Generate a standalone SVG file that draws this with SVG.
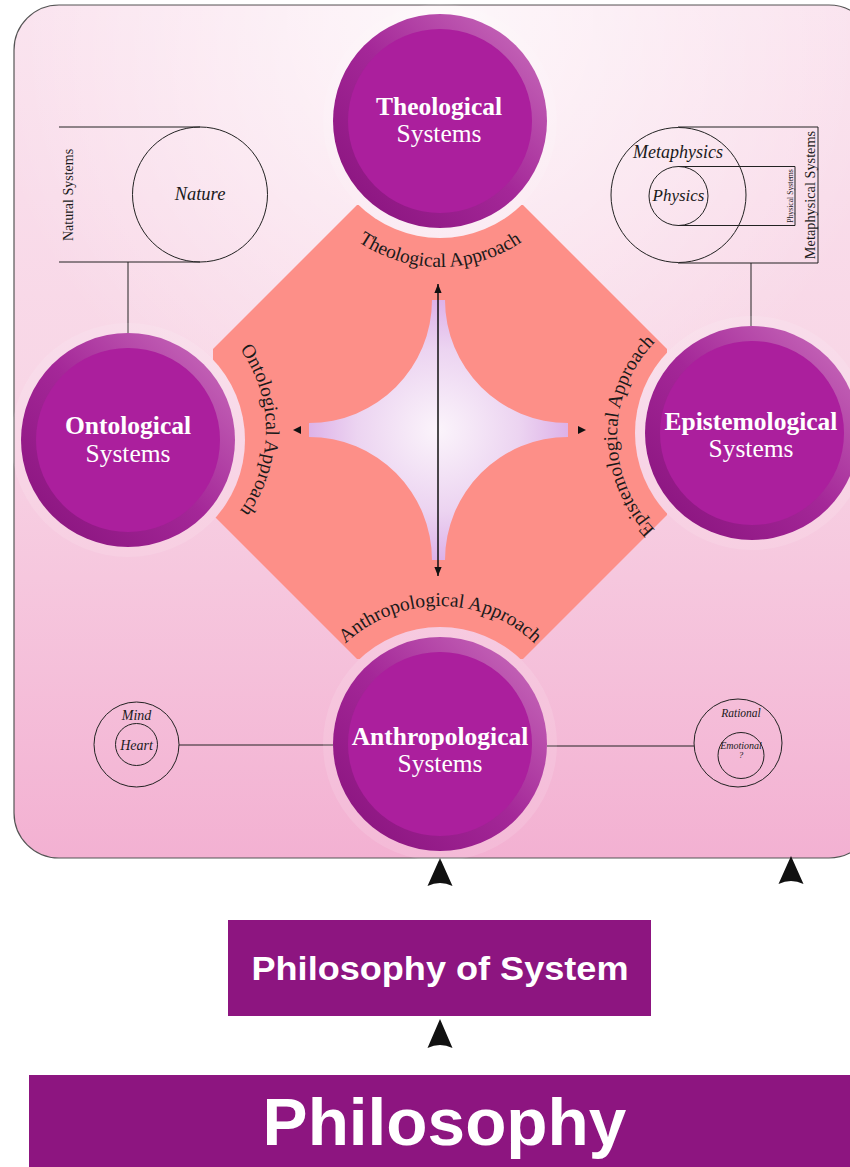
<svg xmlns="http://www.w3.org/2000/svg" width="850" height="1167" viewBox="0 0 850 1167">
<defs>
<linearGradient id="bg" x1="0" y1="0" x2="0" y2="1">
<stop offset="0" stop-color="#fae2ee"/>
<stop offset="0.45" stop-color="#f8d6e6"/>
<stop offset="1" stop-color="#f3b1d2"/>
</linearGradient>
<radialGradient id="glow" gradientUnits="userSpaceOnUse" cx="440" cy="20" r="460">
<stop offset="0" stop-color="#ffffff" stop-opacity="0.75"/>
<stop offset="1" stop-color="#ffffff" stop-opacity="0"/>
</radialGradient>
<linearGradient id="ring" x1="1" y1="0" x2="0" y2="1">
<stop offset="0" stop-color="#cc74bf"/>
<stop offset="0.5" stop-color="#a42798"/>
<stop offset="1" stop-color="#85117a"/>
</linearGradient>
<radialGradient id="star" gradientUnits="userSpaceOnUse" cx="438" cy="430" r="135">
<stop offset="0" stop-color="#fbf4fb"/>
<stop offset="0.6" stop-color="#ecd4f1"/>
<stop offset="1" stop-color="#dcaee7"/>
</radialGradient>
<mask id="cut" maskUnits="userSpaceOnUse" x="0" y="0" width="850" height="1167">
<rect x="0" y="0" width="850" height="1167" fill="#fff"/>
<circle cx="440" cy="121" r="117" fill="#000"/>
<circle cx="128" cy="440" r="117" fill="#000"/>
<circle cx="752" cy="433" r="117" fill="#000"/>
<circle cx="440" cy="744" r="117" fill="#000"/>
</mask>
<marker id="tri" viewBox="0 0 10 10" refX="10" refY="5" markerWidth="9" markerHeight="9" markerUnits="userSpaceOnUse" orient="auto-start-reverse">
<path d="M0,1 L10,5 L0,9 Z" fill="#111"/>
</marker>
<path id="arcTheo" d="M313.6,194 A146,146 0 0 0 566.4,194"/>
<path id="arcAnth" d="M320.5,675 A138,138 0 0 1 559.5,675"/>
<path id="arcOnto" d="M216.7,324.3 A138,138 0 0 1 216.7,535.7"/>
<path id="arcEpis" d="M665.2,539.4 A135,135 0 0 1 665.2,332.6"/>
<style>
.panel{fill:url(#bg);stroke:#555;stroke-width:1.2}
.halo{fill:#fff;fill-opacity:0.12}
.ring{fill:url(#ring)}
.disc{fill:#ab1f9d}
.tb{font-family:"Liberation Serif",serif;font-weight:bold;font-size:25.5px;fill:#fff;text-anchor:middle}
.tr{font-family:"Liberation Serif",serif;font-size:25.5px;fill:#fff;text-anchor:middle}
.ap{font-family:"Liberation Serif",serif;font-size:19.5px;fill:#1a1a1a}
.thin{fill:none;stroke:#222;stroke-width:1}
.it{font-family:"Liberation Serif",serif;font-style:italic;fill:#1a1a1a;text-anchor:middle}
.lbl{font-family:"Liberation Serif",serif;fill:#1a1a1a;text-anchor:middle}
.box{fill:#8d1580}
.bt{font-family:"Liberation Sans",Arial,sans-serif;font-weight:bold;fill:#fff;text-anchor:middle}
.head{fill:#111}
</style>
</defs>

<g id="panel">
<rect class="panel" x="14" y="5" width="860" height="853" rx="45" ry="45"/>
<rect x="15" y="6" width="858" height="851" rx="44" fill="url(#glow)"/>
</g>

<g id="approaches">
<path d="M357,205 L523,205 L667,349 L667,515 L523,659 L357,659 L213,515 L213,349 Z" fill="#fd8f88" mask="url(#cut)"/>
<path d="M432,300 L445,300 A123,123 0 0 0 568,423 L568,437 A123,123 0 0 0 445,560 L432,560 A123,123 0 0 0 309,437 L309,423 A123,123 0 0 0 432,300 Z" fill="url(#star)"/>
<text class="ap"><textPath href="#arcTheo" startOffset="50%" text-anchor="middle">Theological Approach</textPath></text>
<text class="ap"><textPath href="#arcAnth" startOffset="50%" text-anchor="middle">Anthropological Approach</textPath></text>
<text class="ap"><textPath href="#arcOnto" startOffset="50%" text-anchor="middle">Ontological Approach</textPath></text>
<text class="ap"><textPath href="#arcEpis" startOffset="50%" text-anchor="middle">Epistemological Approach</textPath></text>
</g>

<g id="connectors">
<line x1="438" y1="284" x2="438" y2="576" stroke="#111" stroke-width="1.5" marker-start="url(#tri)" marker-end="url(#tri)"/>
<path class="head" d="M293,430 L301,426 L301,434 Z"/>
<path class="head" d="M586,430 L578,426 L578,434 Z"/>
<line class="thin" x1="128" y1="262" x2="128" y2="333"/>
<line class="thin" x1="751" y1="263" x2="751" y2="326"/>
<line class="thin" x1="179" y1="745" x2="333" y2="745"/>
<line class="thin" x1="547" y1="746" x2="694" y2="746"/>
<path class="head" d="M440,858 L452.5,886 Q440,880 427.5,886 Z"/>
<path class="head" d="M791,856 L803.5,884 Q791,878 778.5,884 Z"/>
<path class="head" d="M440,1019 L452.5,1048 Q440,1042 427.5,1048 Z"/>
</g>

<g id="theological">
<circle class="halo" cx="440" cy="121" r="117"/>
<circle class="ring" cx="440" cy="121" r="107"/>
<circle class="disc" cx="440" cy="121" r="92"/>
<text class="tb" x="439" y="115">Theological</text>
<text class="tr" x="439" y="142">Systems</text>
</g>

<g id="ontological">
<circle class="halo" cx="128" cy="440" r="117"/>
<circle class="ring" cx="128" cy="440" r="107"/>
<circle class="disc" cx="128" cy="440" r="92"/>
<text class="tb" x="128" y="434">Ontological</text>
<text class="tr" x="128" y="462">Systems</text>
</g>

<g id="epistemological">
<circle class="halo" cx="752" cy="433" r="117"/>
<circle class="ring" cx="752" cy="433" r="107"/>
<circle class="disc" cx="752" cy="433" r="92"/>
<text class="tb" x="751" y="430">Epistemological</text>
<text class="tr" x="751" y="457">Systems</text>
</g>

<g id="anthropological">
<circle class="halo" cx="440" cy="744" r="117"/>
<circle class="ring" cx="440" cy="744" r="107"/>
<circle class="disc" cx="440" cy="744" r="92"/>
<text class="tb" x="440" y="745">Anthropological</text>
<text class="tr" x="440" y="772">Systems</text>
</g>

<g id="nature">
<line class="thin" x1="59" y1="127" x2="200" y2="127"/>
<line class="thin" x1="59" y1="262" x2="200" y2="262"/>
<circle class="thin" cx="200" cy="194.5" r="67.5"/>
<text class="it" x="200" y="200" font-size="18.5">Nature</text>
<text class="lbl" font-size="14" transform="translate(73,195) rotate(-90)">Natural Systems</text>
</g>

<g id="metaphysics">
<line class="thin" x1="678" y1="127" x2="818" y2="127"/>
<line class="thin" x1="678" y1="263" x2="818" y2="263"/>
<line class="thin" x1="818" y1="127" x2="818" y2="263"/>
<circle class="thin" cx="678.5" cy="195" r="67.5"/>
<text class="it" x="678" y="158" font-size="18">Metaphysics</text>
<text class="lbl" font-size="14.3" transform="translate(815,195) rotate(-90)">Metaphysical Systems</text>
</g>

<g id="physics">
<line class="thin" x1="678" y1="166.5" x2="795" y2="166.5"/>
<line class="thin" x1="678" y1="225.5" x2="795" y2="225.5"/>
<line class="thin" x1="795" y1="166.5" x2="795" y2="225.5"/>
<circle class="thin" cx="678.5" cy="196" r="29.5"/>
<text class="it" x="678.5" y="201" font-size="17">Physics</text>
<text class="lbl" font-size="7.7" transform="translate(793,196) rotate(-90)">Physical Systems</text>
</g>

<g id="mind">
<circle class="thin" cx="136.5" cy="744.5" r="42.5"/>
<circle class="thin" cx="136.5" cy="744.5" r="21"/>
<text class="it" x="136.5" y="720" font-size="14">Mind</text>
<text class="it" x="136.5" y="749.5" font-size="14">Heart</text>
</g>

<g id="rational">
<circle class="thin" cx="738" cy="743" r="44"/>
<circle class="thin" cx="741" cy="755.5" r="23"/>
<text class="it" x="741" y="717" font-size="11.5">Rational</text>
<text class="it" x="741" y="749" font-size="10">Emotional</text>
<text class="it" x="741" y="758" font-size="9">?</text>
</g>

<g id="philosophy-of-system">
<rect class="box" x="228" y="920" width="423" height="96"/>
<text class="bt" x="440" y="980" font-size="34" textLength="377" lengthAdjust="spacingAndGlyphs">Philosophy of System</text>
</g>

<g id="philosophy">
<rect class="box" x="29" y="1075" width="821" height="92"/>
<text class="bt" x="444.5" y="1145" font-size="67.5">Philosophy</text>
</g>
</svg>
